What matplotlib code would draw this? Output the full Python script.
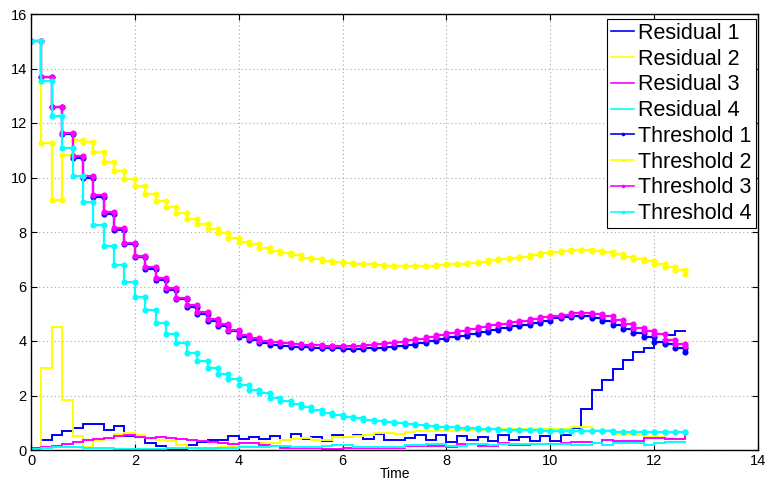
import numpy as np
import matplotlib
matplotlib.use("Agg")
import matplotlib.pyplot as plt

# ---------------- data ----------------
dt = 0.2
n_steps = 64
t = np.arange(n_steps) * dt   # time instants 0 .. 12.6

residual_1 = [0.06, 0.35, 0.55, 0.70, 0.82, 0.97, 0.97, 0.72, 0.88, 0.52,
              0.46, 0.25, 0.15, 0.04, 0.04, 0.20, 0.30, 0.36, 0.37, 0.50,
              0.41, 0.48, 0.40, 0.51, 0.37, 0.57, 0.39, 0.49, 0.33, 0.55,
              0.46, 0.55, 0.42, 0.59, 0.35, 0.35, 0.45, 0.55, 0.37, 0.55,
              0.31, 0.53, 0.37, 0.49, 0.34, 0.55, 0.37, 0.49, 0.33, 0.51,
              0.34, 0.55, 0.80, 1.51, 2.20, 2.57, 2.98, 3.29, 3.61, 3.76,
              3.98, 4.22, 4.37, 4.37]
residual_2 = [0.05, 3.00, 4.50, 1.82, 0.53, 0.12, 0.35, 0.45, 0.57, 0.62,
              0.56, 0.43, 0.37, 0.34, 0.20, 0.09, 0.05, 0.05, 0.10, 0.10,
              0.15, 0.15, 0.24, 0.27, 0.37, 0.39, 0.43, 0.37, 0.35, 0.46,
              0.49, 0.51, 0.55, 0.61, 0.61, 0.59, 0.67, 0.70, 0.71, 0.71,
              0.71, 0.72, 0.73, 0.73, 0.76, 0.76, 0.76, 0.76, 0.76, 0.76,
              0.76, 0.76, 0.86, 0.86, 0.72, 0.72, 0.57, 0.57, 0.55, 0.48,
              0.48, 0.43, 0.39, 0.39]
residual_3 = [0.06, 0.10, 0.15, 0.22, 0.29, 0.36, 0.41, 0.43, 0.52, 0.55,
              0.48, 0.44, 0.46, 0.45, 0.39, 0.36, 0.32, 0.29, 0.27, 0.21,
              0.24, 0.24, 0.20, 0.14, 0.06, 0.06, 0.06, 0.06, 0.04, 0.04,
              0.06, 0.06, 0.06, 0.06, 0.06, 0.06, 0.15, 0.15, 0.13, 0.13,
              0.10, 0.21, 0.21, 0.15, 0.15, 0.25, 0.19, 0.19, 0.21, 0.21,
              0.21, 0.24, 0.31, 0.31, 0.26, 0.35, 0.33, 0.34, 0.34, 0.45,
              0.45, 0.41, 0.41, 0.52]
residual_4 = [0.04, 0.07, 0.10, 0.11, 0.12, 0.06, 0.06, 0.06, 0.05, 0.03,
              0.02, 0.02, 0.02, 0.06, 0.06, 0.09, 0.07, 0.07, 0.09, 0.09,
              0.12, 0.12, 0.12, 0.15, 0.15, 0.12, 0.12, 0.12, 0.15, 0.20,
              0.18, 0.12, 0.10, 0.12, 0.12, 0.12, 0.18, 0.20, 0.21, 0.21,
              0.16, 0.16, 0.21, 0.21, 0.19, 0.22, 0.22, 0.21, 0.21, 0.22,
              0.22, 0.21, 0.18, 0.18, 0.27, 0.18, 0.24, 0.24, 0.24, 0.17,
              0.27, 0.29, 0.31, 0.31]

threshold_1 = [15.0, 13.68, 12.57, 11.60, 10.73, 10.00, 9.30, 8.67, 8.08, 7.56,
               7.07, 6.65, 6.24, 5.87, 5.53, 5.25, 4.98, 4.75, 4.54, 4.35,
               4.16, 4.03, 3.93, 3.87, 3.82, 3.79, 3.77, 3.75, 3.74, 3.73,
               3.72, 3.72, 3.73, 3.75, 3.78, 3.82, 3.87, 3.93, 3.99, 4.06,
               4.13, 4.20, 4.27, 4.34, 4.41, 4.48, 4.54, 4.60, 4.67, 4.75,
               4.83, 4.89, 4.93, 4.92, 4.86, 4.75, 4.59, 4.43, 4.31, 4.13,
               3.98, 3.89, 3.73, 3.61]
threshold_2 = [15.0, 11.28, 9.17, 10.83, 11.38, 11.32, 10.93, 10.56, 10.23, 9.93,
               9.67, 9.40, 9.15, 8.92, 8.70, 8.48, 8.29, 8.11, 7.95, 7.79,
               7.65, 7.55, 7.43, 7.31, 7.22, 7.14, 7.06, 7.00, 6.94, 6.89,
               6.85, 6.83, 6.81, 6.79, 6.77, 6.76, 6.76, 6.76, 6.77, 6.79,
               6.81, 6.83, 6.87, 6.91, 6.96, 7.01, 7.06, 7.10, 7.17, 7.23,
               7.27, 7.31, 7.34, 7.35, 7.31, 7.25, 7.18, 7.10, 7.02, 6.93,
               6.83, 6.72, 6.60, 6.45]
threshold_3 = [15.0, 13.70, 12.60, 11.65, 10.78, 10.05, 9.35, 8.72, 8.13, 7.61,
               7.12, 6.70, 6.30, 5.93, 5.59, 5.32, 5.05, 4.82, 4.61, 4.42,
               4.23, 4.10, 4.01, 3.95, 3.91, 3.88, 3.86, 3.84, 3.83, 3.82,
               3.82, 3.83, 3.85, 3.88, 3.92, 3.96, 4.02, 4.08, 4.15, 4.22,
               4.29, 4.36, 4.43, 4.51, 4.58, 4.64, 4.69, 4.75, 4.81, 4.87,
               4.92, 4.97, 5.02, 5.03, 4.99, 4.90, 4.76, 4.62, 4.48, 4.38,
               4.24, 4.05, 3.90, 3.82]
threshold_4 = [15.0, 13.55, 12.25, 11.10, 10.05, 9.10, 8.26, 7.49, 6.80, 6.18,
               5.63, 5.14, 4.67, 4.26, 3.91, 3.57, 3.28, 3.02, 2.78, 2.59,
               2.37, 2.20, 2.08, 1.92, 1.79, 1.67, 1.56, 1.46, 1.37, 1.29,
               1.22, 1.16, 1.10, 1.06, 1.02, 0.98, 0.94, 0.91, 0.88, 0.85,
               0.83, 0.81, 0.79, 0.77, 0.76, 0.75, 0.74, 0.73, 0.72, 0.71,
               0.70, 0.70, 0.69, 0.69, 0.68, 0.68, 0.67, 0.67, 0.67, 0.66,
               0.66, 0.66, 0.65, 0.65]

residuals = [residual_1, residual_2, residual_3, residual_4]
thresholds = [threshold_1, threshold_2, threshold_3, threshold_4]
colors = ["#0000ff", "#ffff00", "#ff00ff", "#00ffff"]
res_labels = ["Residual 1", "Residual 2", "Residual 3", "Residual 4"]
thr_labels = ["Threshold 1", "Threshold 2", "Threshold 3", "Threshold 4"]
x_ticks = [0, 2, 4, 6, 8, 10, 12, 14]
y_ticks = [0, 2, 4, 6, 8, 10, 12, 14, 16]


def stairs(x, y):
    """MATLAB-like stairs vertices."""
    x = np.asarray(x, float)
    y = np.asarray(y, float)
    xs = np.repeat(x, 2)[1:]
    ys = np.repeat(y, 2)[:-1]
    return xs, ys


plt.rcParams["font.family"] = ["Liberation Sans", "DejaVu Sans"]

fig = plt.figure(figsize=(7.68, 4.82), dpi=100)
ax = fig.add_axes([31 / 768, 32 / 482, 727 / 768, 436 / 482])

for r, c, lab in zip(residuals, colors, res_labels):
    xs, ys = stairs(t, r)
    ax.plot(xs, ys, color=c, lw=1.4, label=lab, solid_joinstyle="miter")

for th, c, lab in zip(thresholds, colors, thr_labels):
    xs, ys = stairs(t, th)
    ax.plot(xs, ys, color=c, lw=1.6, marker="o", markersize=4.4,
            markeredgewidth=0, label=lab)

ax.set_xlim(0, 14)
ax.set_ylim(0, 16)
ax.set_xticks(x_ticks)
ax.set_yticks(y_ticks)
ax.tick_params(direction="in", length=4, width=0.8, top=True, right=True,
               labelsize=10.5, pad=3)
ax.grid(True, linestyle=(0, (1, 2.5)), color="#a8a8a8", linewidth=0.8)
for sp in ax.spines.values():
    sp.set_linewidth(1.0)
    sp.set_color("black")
ax.set_xlabel("Time", fontsize=10, labelpad=-1)

leg = ax.legend(loc="upper right", bbox_to_anchor=(0.9967, 0.9885),
                borderaxespad=0, fontsize=15.5, labelspacing=0.22,
                handlelength=1.05, handletextpad=0.2, borderpad=0.18,
                fancybox=False, framealpha=1, edgecolor="black",
                markerscale=0.6)
leg.get_frame().set_linewidth(0.8)
for h in leg.get_lines():
    h.set_linewidth(1.2)

fig.savefig("out.png", dpi=100)
